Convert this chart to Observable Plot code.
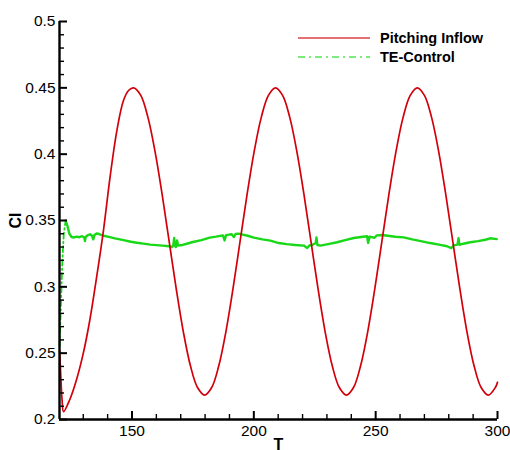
<!DOCTYPE html>
<html>
<head>
<meta charset="utf-8">
<script src="https://cdn.jsdelivr.net/npm/d3@7"></script>
<script src="https://cdn.jsdelivr.net/npm/@observablehq/plot@0.6"></script>
<style>
  html, body { margin: 0; padding: 0; background: #fff; }
  #wrap { position: relative; width: 510px; height: 450px; font-family: "Liberation Sans", Arial, sans-serif; }
  #legend { position: absolute; left: 298px; top: 28px; font-weight: bold; font-size: 14.5px; color: #000; }
  #legend .row { display: flex; align-items: center; height: 19px; }
  #legend svg { margin-right: 10px; }
</style>
</head>
<body>
<div id="wrap"><div id="legend"></div></div>
<script>
// ---- data ----
const seriesNames = ["Pitching Inflow", "TE-Control"];
const seriesColors = ["#d2000a", "#18d818"];

const xDomain = [120.25, 300];
const yDomain = [0.2, 0.5];
const xMajorTicks = [150, 200, 250, 300];
const xMinorTicks = [130, 140, 160, 170, 180, 190, 210, 220, 230, 240, 260, 270, 280, 290];
const yMajorTicks = [0.2, 0.25, 0.3, 0.35, 0.4, 0.45, 0.5];
const yMinorTicks = [0.21, 0.22, 0.23, 0.24, 0.26, 0.27, 0.28, 0.29, 0.31, 0.32, 0.33, 0.34,
  0.36, 0.37, 0.38, 0.39, 0.41, 0.42, 0.43, 0.44, 0.46, 0.47, 0.48, 0.49];

// Pitching Inflow (red)
const pitchT = [120.3, 120.8, 121.3, 121.9, 124.4, 127.2, 130.0, 132.7, 135.5, 138.3, 141.0, 143.8,
  146.5, 148.6, 150.7, 153.61, 156.52, 159.43, 162.34, 165.25, 168.16, 171.07, 173.98, 176.89,
  179.8, 182.71, 185.62, 188.53, 191.44, 194.35, 197.26, 200.17, 203.08, 205.99, 208.9, 211.81,
  214.72, 217.63, 220.54, 223.45, 226.36, 229.27, 232.18, 235.09, 238.0, 240.91, 243.82, 246.73,
  249.64, 252.55, 255.46, 258.37, 261.28, 264.19, 267.1, 270.01, 272.92, 275.83, 278.74, 281.65,
  284.56, 287.47, 290.38, 293.29, 296.2, 299.11, 300.0];
const pitchCl = [0.252, 0.232, 0.215, 0.2059, 0.2147, 0.2298, 0.2498, 0.275, 0.3075, 0.3426, 0.3827, 0.4178,
  0.4404, 0.4480, 0.4500, 0.4443, 0.4279, 0.4023, 0.3700, 0.3342, 0.2984, 0.2661, 0.2405, 0.2241,
  0.2184, 0.2241, 0.2405, 0.2661, 0.2984, 0.3342, 0.3700, 0.4023, 0.4279, 0.4443, 0.4500, 0.4443,
  0.4279, 0.4023, 0.3700, 0.3342, 0.2984, 0.2661, 0.2405, 0.2241, 0.2184, 0.2241, 0.2405, 0.2661,
  0.2984, 0.3342, 0.3700, 0.4023, 0.4279, 0.4443, 0.4500, 0.4443, 0.4279, 0.4023, 0.3700, 0.3342,
  0.2984, 0.2661, 0.2405, 0.2241, 0.2184, 0.2241, 0.2281];

// TE-Control (green)
const teT = [120.3, 120.8, 121.4, 122.0, 122.8, 123.5, 124.3, 125.2, 126.3, 127.3, 128.4, 129.5,
  130.4, 130.7, 131.0, 132.0, 132.8, 133.6, 134.1, 134.6, 135.5, 136.5, 138.3, 140.5, 143.0, 146.5,
  149.5, 152.0, 154.7, 157.5, 160.0, 162.5, 164.2, 165.5, 166.5, 167.0, 167.3, 167.6, 168.0, 168.5,
  168.9, 170.0, 172.5, 175.0, 178.5, 181.9, 184.5, 187.3, 188.0, 188.6, 190.0, 190.9, 191.8, 192.5,
  193.6, 195.0, 197.5, 200.0, 203.5, 206.8, 210.2, 213.5, 217.0, 220.5, 221.9, 222.8, 224.0, 225.4,
  225.7, 226.1, 227.3, 230.5, 234.2, 237.5, 241.0, 244.0, 246.5, 246.9, 247.5, 249.5, 250.5, 252.6,
  255.0, 258.0, 261.5, 265.0, 268.5, 272.4, 276.0, 279.3, 281.0, 282.0, 283.6, 284.0, 284.4, 286.0,
  288.8, 292.0, 295.0, 297.0, 299.7];
const teCl = [0.255, 0.285, 0.318, 0.340, 0.350, 0.346, 0.340, 0.3376, 0.3372, 0.3378, 0.3374, 0.3382,
  0.3372, 0.3345, 0.3378, 0.3390, 0.3396, 0.3385, 0.3358, 0.3390, 0.3402, 0.3398, 0.3385, 0.3376, 0.3365, 0.3352,
  0.3340, 0.3332, 0.3326, 0.3318, 0.3314, 0.3311, 0.3308, 0.3305, 0.3300, 0.3318, 0.3368, 0.3310, 0.3300, 0.3350,
  0.3312, 0.3313, 0.3325, 0.3338, 0.3352, 0.3371, 0.3378, 0.3388, 0.3350, 0.3390, 0.3394, 0.3396, 0.3375, 0.3398,
  0.3401, 0.3396, 0.3385, 0.3371, 0.3358, 0.3348, 0.3330, 0.3322, 0.3315, 0.3311, 0.3292, 0.3312, 0.3315, 0.3330,
  0.3373, 0.3315, 0.3311, 0.3322, 0.3336, 0.3352, 0.3368, 0.3376, 0.3381, 0.3331, 0.3378, 0.3370, 0.3388, 0.3391,
  0.3385, 0.3378, 0.3373, 0.3358, 0.3345, 0.3330, 0.3318, 0.3306, 0.3292, 0.3312, 0.3318, 0.3366, 0.3316, 0.3325,
  0.3336, 0.3345, 0.3355, 0.3366, 0.3360];

// ---- build tables ----
const pitch = pitchT.map((t, i) => ({T: t, Cl: pitchCl[i]}));
const te = teT.map((t, i) => ({T: t, Cl: teCl[i]}));
const teStart = te.filter(d => d.T <= 122.8);
const teRest = te.filter(d => d.T >= 122.8);

const W = 510, H = 450, mL = 59, mR = 13, mT = 21, mB = 31;
const yPerPx = (yDomain[1] - yDomain[0]) / (H - mT - mB);
const xPerPx = (xDomain[1] - xDomain[0]) / (W - mL - mR);
const fontSize = 15.5;

const chart = Plot.plot({
  width: W,
  height: H,
  marginLeft: mL,
  marginRight: mR,
  marginTop: mT,
  marginBottom: mB,
  x: {domain: xDomain},
  y: {domain: yDomain},
  marks: [
    // data
    Plot.line(teStart, {x: "T", y: "Cl", stroke: seriesColors[1], strokeWidth: 1.8, strokeDasharray: "6,3,1.5,3"}),
    Plot.line(teRest, {x: "T", y: "Cl", stroke: seriesColors[1], strokeWidth: 2.4}),
    Plot.line(pitch, {x: "T", y: "Cl", stroke: seriesColors[0], strokeWidth: 1.7, curve: "catmull-rom"}),
    // axis lines
    Plot.ruleX([xDomain[0]], {stroke: "black", strokeWidth: 2.4}),
    Plot.ruleY([yDomain[0]], {stroke: "black", strokeWidth: 2.4}),
    // major ticks (inward) with labels and titles
    Plot.axisX(xMajorTicks.slice(), {anchor: "bottom", tickSize: -8, tickPadding: 13, strokeWidth: 2,
      tickFormat: d => String(d), fontSize, label: "T", labelAnchor: "center", labelArrow: "none", labelOffset: 30}),
    Plot.axisY(yMajorTicks.slice(), {anchor: "left", tickSize: -8, tickPadding: 12, strokeWidth: 2,
      tickFormat: d => String(d), fontSize, label: "Cl", labelAnchor: "center", labelArrow: "none", labelOffset: 50}),
    // minor ticks (inward)
    Plot.ruleX(xMinorTicks.map(v => ({v})), {x: "v", y1: yDomain[0], y2: yDomain[0] + 5 * yPerPx, stroke: "black", strokeWidth: 1.4}),
    Plot.ruleY(yMinorTicks.map(v => ({v})), {y: "v", x1: xDomain[0], x2: xDomain[0] + 5 * xPerPx, stroke: "black", strokeWidth: 1.4})
  ]
});
chart.style.fontFamily = "Liberation Sans, Arial, sans-serif";
chart.querySelectorAll('[aria-label="x-axis label"] text, [aria-label="y-axis label"] text')
  .forEach(t => { t.setAttribute("font-weight", "bold"); t.setAttribute("font-size", "16"); });
// keep tick groups on top of everything
chart.querySelectorAll('g[aria-label="x-axis tick"], g[aria-label="y-axis tick"], g[aria-label="rule"]')
  .forEach(g => chart.appendChild(g));
document.getElementById("wrap").prepend(chart);

// legend inside the frame
const legend = document.getElementById("legend");
const dashes = [null, "7,4,2,4"];
seriesNames.forEach((name, i) => {
  const row = document.createElement("div");
  row.className = "row";
  row.innerHTML = `<svg width="72" height="4"><line x1="0" x2="72" y1="2" y2="2" stroke="${seriesColors[i]}" stroke-opacity="0.75" stroke-width="1.5" ${dashes[i] ? `stroke-dasharray="${dashes[i]}"` : ""}/></svg><span>${name}</span>`;
  legend.appendChild(row);
});
</script>
</body>
</html>
